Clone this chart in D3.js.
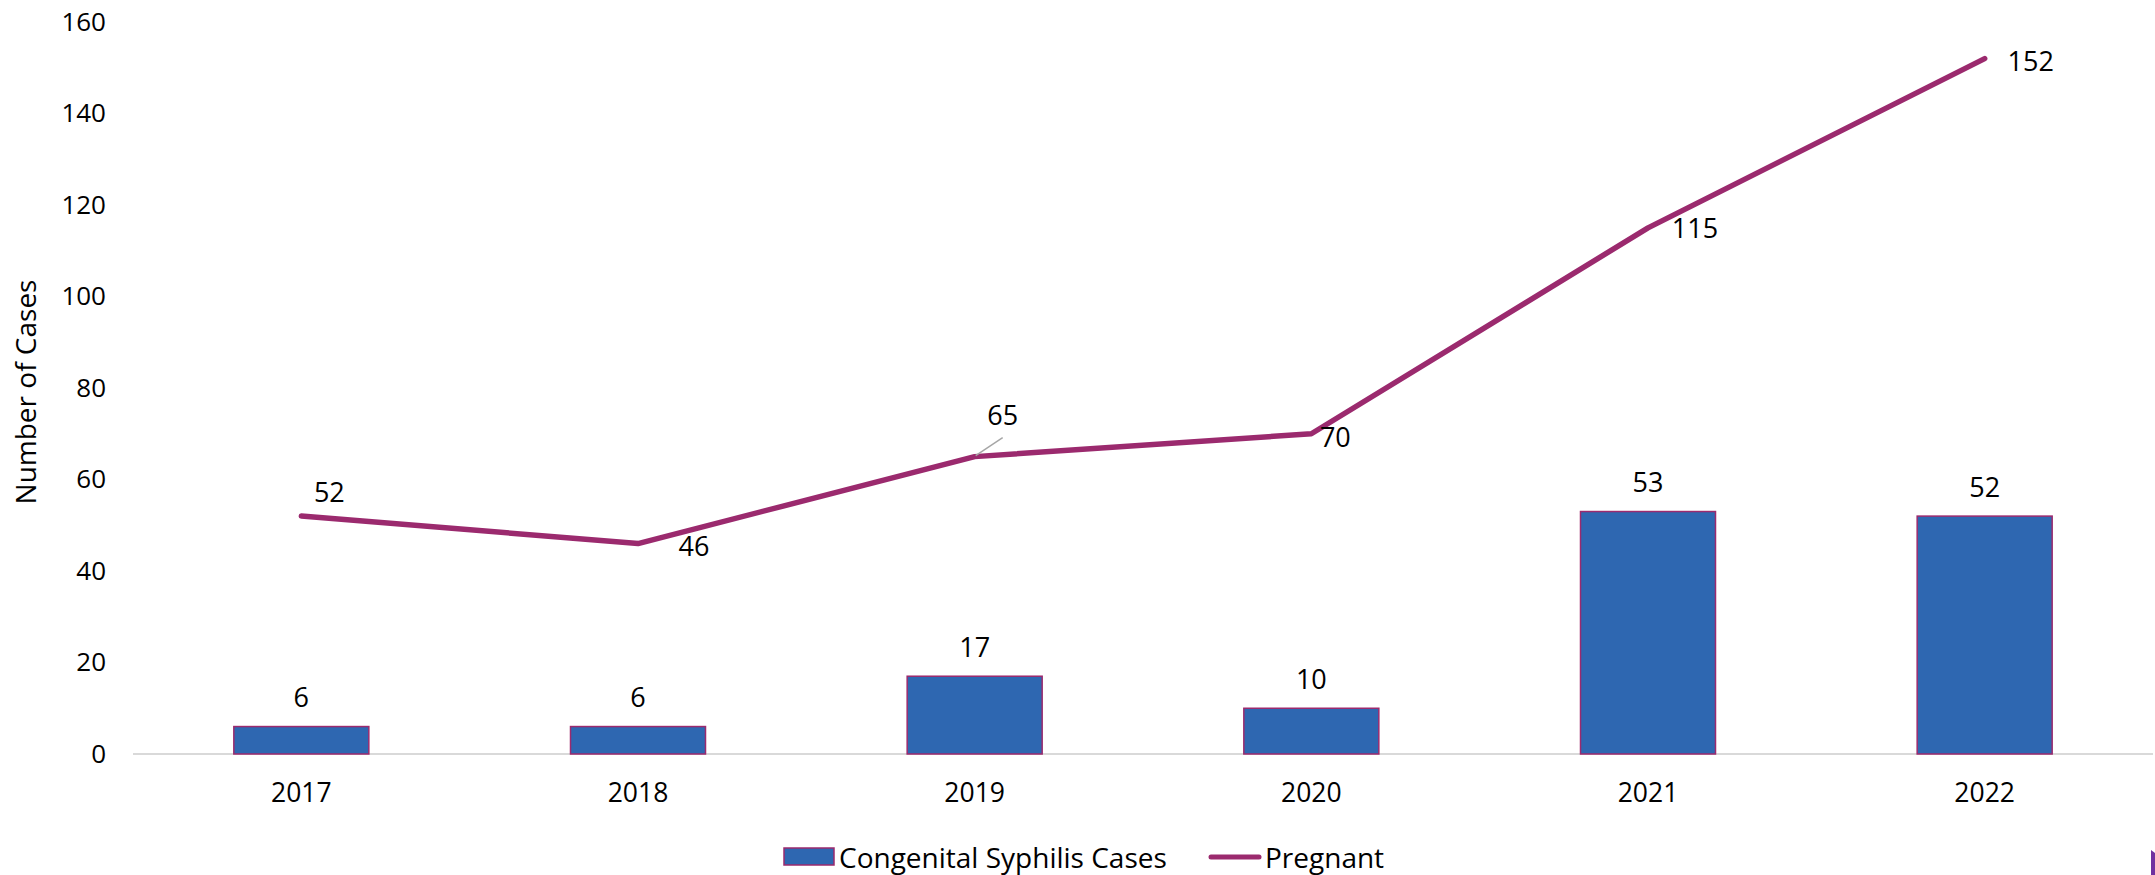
<!DOCTYPE html>
<html><head><meta charset="utf-8">
<script src="https://cdn.jsdelivr.net/npm/d3@7"></script>
<style>html,body{margin:0;padding:0;background:#fff;}svg{display:block;}</style>
</head><body>
<svg id="chart" width="2155" height="875"></svg>
<script>
const years = ["2017","2018","2019","2020","2021","2022"];
const congenitalCases = [6, 6, 17, 10, 53, 52];
const pregnant = [52, 46, 65, 70, 115, 152];
const yTicks = [0, 20, 40, 60, 80, 100, 120, 140, 160];
const seriesNames = ["Congenital Syphilis Cases", "Pregnant"];
// label offsets for line data labels (dx, dy) in px
const lineLabelOffsets = [[28,-25],[56,2],[28,-42],[24,3],[47,0],[46,2]];

const W = 2155, H = 875;
const m = {left:133, right:2, top:22, bottom:121};
const svg = d3.select("#chart");
const font = "'Open Sans', sans-serif";
const barColor = "#2E67B1", lineColor = "#9B2A6E";

const x = d3.scaleBand().domain(years).range([m.left, W - m.right]).paddingInner(0.6).paddingOuter(0.3);
const y = d3.scaleLinear().domain([0,160]).range([H - m.bottom, m.top]);

// y axis labels
const yAxis = d3.axisLeft(y).tickValues(yTicks).tickSize(0).tickPadding(0);
const gy = svg.append("g").attr("transform", `translate(106,0)`).call(yAxis);
gy.select(".domain").remove();
gy.selectAll("text").attr("font-family", font).attr("font-size", 26).attr("fill", "#000");

// baseline
svg.append("line").attr("x1", m.left).attr("x2", W - m.right)
  .attr("y1", y(0)).attr("y2", y(0)).attr("stroke", "#d9d9d9").attr("stroke-width", 2);

// x axis
const xAxis = d3.axisBottom(x).tickSize(0).tickPadding(0);
const gx = svg.append("g").attr("transform", `translate(0,${y(0)+40})`).call(xAxis);
gx.select(".domain").remove();
gx.selectAll("text").attr("font-family", font).attr("font-size", 26.5).attr("fill", "#000").attr("dy", "0.32em");

// bars
const bw = 135;
svg.append("g").selectAll("rect").data(congenitalCases).join("rect")
  .attr("x", (d,i) => x(years[i]) + x.bandwidth()/2 - bw/2)
  .attr("width", bw)
  .attr("y", d => y(d))
  .attr("height", d => y(0) - y(d))
  .attr("fill", barColor).attr("stroke", lineColor).attr("stroke-width", 1.5);

svg.append("g").selectAll("text").data(congenitalCases).join("text")
  .attr("x", (d,i) => x(years[i]) + x.bandwidth()/2)
  .attr("y", d => y(d) - 30)
  .attr("text-anchor", "middle").attr("dominant-baseline", "central")
  .attr("font-family", font).attr("font-size", 27).attr("fill", "#000")
  .text(d => d);

// line
const cx = i => x(years[i]) + x.bandwidth()/2;
const line = d3.line().x((d,i) => cx(i)).y(d => y(d));
svg.append("path").datum(pregnant).attr("d", line)
  .attr("fill", "none").attr("stroke", lineColor).attr("stroke-width", 5.5)
  .attr("stroke-linecap", "round").attr("stroke-linejoin", "round");

// leader line for 2019
svg.append("line")
  .attr("x1", cx(2) + 1).attr("y1", y(pregnant[2]) - 1)
  .attr("x2", cx(2) + 28).attr("y2", y(pregnant[2]) - 19)
  .attr("stroke", "#a6a6a6").attr("stroke-width", 1.5);

svg.append("g").selectAll("text").data(pregnant).join("text")
  .attr("x", (d,i) => cx(i) + lineLabelOffsets[i][0])
  .attr("y", (d,i) => y(d) + lineLabelOffsets[i][1])
  .attr("text-anchor", "middle").attr("dominant-baseline", "central")
  .attr("font-family", font).attr("font-size", 27).attr("fill", "#000")
  .text(d => d);

// y axis title
svg.append("text").attr("transform", `translate(25,392) rotate(-90)`)
  .attr("text-anchor", "middle").attr("dominant-baseline", "central")
  .attr("font-family", font).attr("font-size", 28).attr("fill", "#000")
  .text("Number of Cases");

// legend
const lg = svg.append("g");
lg.append("rect").attr("x", 784).attr("y", 848).attr("width", 50).attr("height", 17)
  .attr("fill", barColor).attr("stroke", lineColor).attr("stroke-width", 1.5);
lg.append("text").attr("x", 839).attr("y", 857).attr("dominant-baseline", "central")
  .attr("font-family", font).attr("font-size", 28).attr("fill", "#000").text(seriesNames[0]);
lg.append("line").attr("x1", 1211).attr("x2", 1259).attr("y1", 857).attr("y2", 857)
  .attr("stroke", lineColor).attr("stroke-width", 5).attr("stroke-linecap", "round");
lg.append("text").attr("x", 1265).attr("y", 857).attr("dominant-baseline", "central")
  .attr("font-family", font).attr("font-size", 28).attr("fill", "#000").text(seriesNames[1]);

// corner mark
svg.append("path").attr("d", "M2151,850 L2155,853 L2155,875 L2151,875 Z").attr("fill", "#7030A0");
</script>
</body></html>
